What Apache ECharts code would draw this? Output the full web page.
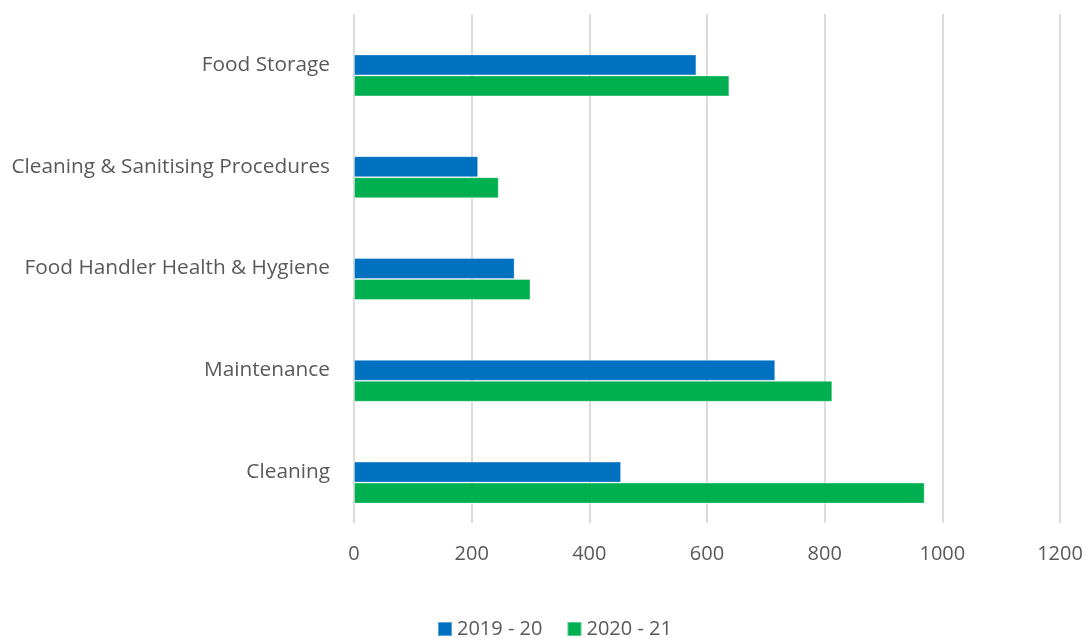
<!DOCTYPE html>
<html>
<head>
<meta charset="utf-8">
<style>
  html, body { margin: 0; padding: 0; background: #ffffff; }
  #chart { width: 1088px; height: 638px; }
</style>
<script src="https://cdn.jsdelivr.net/npm/echarts@6/dist/echarts.min.js"></script>
</head>
<body>
<div id="chart"></div>
<script>
// Inspection categories, listed top to bottom
const categories = [
  'Food Storage',
  'Cleaning & Sanitising Procedures',
  'Food Handler Health & Hygiene',
  'Maintenance',
  'Cleaning'
];
const seriesNames = ['2019 - 20', '2020 - 21'];
const values2019 = [582, 211, 273, 716, 454];
const values2020 = [638, 246, 300, 813, 970];
const xTicks = { min: 0, max: 1200, interval: 200 };

const textColor = '#595959';
const fontFamily = '"Open Sans", "Noto Sans", sans-serif';

const chart = echarts.init(document.getElementById('chart'), null, { renderer: 'canvas' });

const barStyle = (color) => ({
  type: 'bar',
  barWidth: 21,
  barGap: '0%',
  itemStyle: { color: color, borderColor: 'rgba(255,255,255,0.35)', borderWidth: 1 },
  emphasis: { disabled: true }
});

chart.setOption({
  animation: false,
  backgroundColor: '#ffffff',
  textStyle: { fontFamily: fontFamily },
  grid: { left: 354, right: 28, top: 14, bottom: 115, containLabel: false },
  legend: {
    data: seriesNames,
    top: 619,
    left: 437,
    padding: 0,
    itemWidth: 14,
    itemHeight: 14,
    itemGap: 24,
    icon: 'rect',
    textStyle: { color: textColor, fontSize: 20, lineHeight: 20, fontFamily: fontFamily }
  },
  xAxis: {
    type: 'value',
    min: xTicks.min,
    max: xTicks.max,
    interval: xTicks.interval,
    axisLine: { show: false },
    axisTick: { show: false },
    axisLabel: {
      color: textColor, fontSize: 20, margin: 21, fontFamily: fontFamily,
      formatter: (v) => String(v)
    },
    splitLine: { show: true, lineStyle: { color: '#dcdcdc', width: 2 } }
  },
  yAxis: {
    type: 'category',
    data: categories,
    inverse: true,
    axisLine: { show: false },
    axisTick: { show: false },
    splitLine: { show: false },
    axisLabel: {
      color: textColor, fontSize: 20.8, margin: 24, fontFamily: fontFamily,
      padding: [4, 0, 0, 0]
    }
  },
  series: [
    // empty slot that keeps the pair of bars in the lower part of each band
    Object.assign(barStyle('transparent'), { name: 'slot', data: [] }),
    Object.assign(barStyle('#0070C0'), { name: seriesNames[0], data: values2019 }),
    Object.assign(barStyle('#00B050'), { name: seriesNames[1], data: values2020 })
  ]
});
</script>
</body>
</html>
